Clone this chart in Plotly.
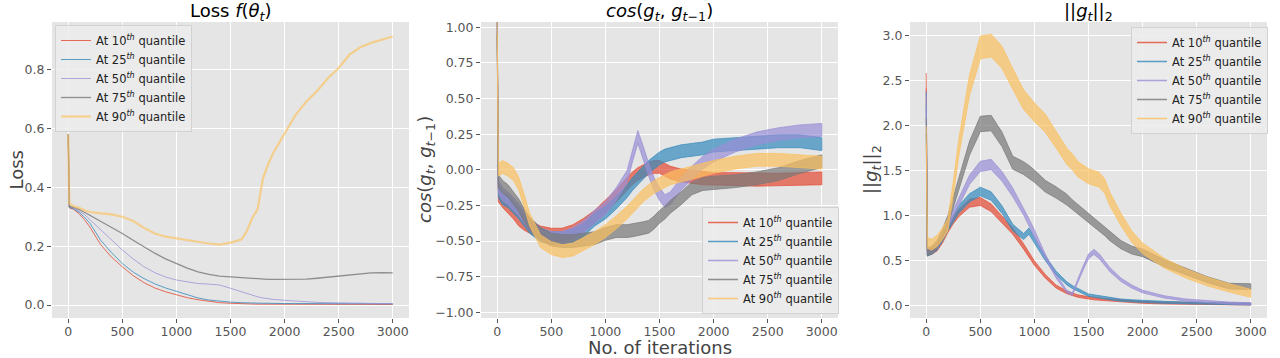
import plotly.graph_objects as go

# ---- data ----
names = ["At 10<sup><i>th</i></sup> quantile", "At 25<sup><i>th</i></sup> quantile",
         "At 50<sup><i>th</i></sup> quantile", "At 75<sup><i>th</i></sup> quantile",
         "At 90<sup><i>th</i></sup> quantile"]
colors = ["#E24A33", "#348ABD", "#988ED5", "#777777", "#FBC15E"]

loss_x = [0, 10, 50, 100, 150, 200, 300, 400, 500, 600, 700, 800, 900, 1000, 1100, 1200,
          1300, 1400, 1500, 1600, 1650, 1700, 1750, 1800, 1850, 1900, 2000, 2100, 2200,
          2300, 2400, 2500, 2600, 2700, 2800, 2900, 3000]
loss_q10 = [0.58, 0.33, 0.325, 0.31, 0.29, 0.265, 0.205, 0.163, 0.13, 0.1, 0.076, 0.058,
            0.045, 0.034, 0.025, 0.018, 0.012, 0.008, 0.006, 0.004, 0.004, 0.003, 0.003,
            0.003, 0.003, 0.002, 0.002, 0.002, 0.002, 0.002, 0.002, 0.002, 0.002, 0.002,
            0.002, 0.002, 0.002]
loss_q25 = [0.58, 0.332, 0.327, 0.315, 0.298, 0.278, 0.22, 0.178, 0.141, 0.112, 0.09, 0.072,
            0.058, 0.046, 0.034, 0.024, 0.017, 0.013, 0.01, 0.008, 0.007, 0.007, 0.006,
            0.006, 0.006, 0.005, 0.005, 0.005, 0.005, 0.004, 0.004, 0.004, 0.004, 0.004,
            0.004, 0.004, 0.004]
loss_q50 = [0.58, 0.334, 0.33, 0.32, 0.308, 0.29, 0.255, 0.22, 0.187, 0.157, 0.13, 0.11,
            0.095, 0.085, 0.078, 0.073, 0.071, 0.068, 0.057, 0.045, 0.039, 0.033, 0.028,
            0.024, 0.021, 0.019, 0.016, 0.013, 0.011, 0.009, 0.008, 0.007, 0.006, 0.006,
            0.005, 0.005, 0.005]
loss_q75 = [0.58, 0.335, 0.332, 0.325, 0.315, 0.305, 0.285, 0.263, 0.243, 0.22, 0.198,
            0.176, 0.157, 0.14, 0.125, 0.113, 0.104, 0.098, 0.095, 0.093, 0.091, 0.09,
            0.088, 0.087, 0.087, 0.087, 0.087, 0.087, 0.088, 0.091, 0.095, 0.099, 0.102,
            0.106, 0.109, 0.11, 0.109]
loss_q90 = [0.58, 0.345, 0.335, 0.33, 0.322, 0.316, 0.311, 0.308, 0.3, 0.285, 0.262, 0.243,
            0.232, 0.226, 0.22, 0.214, 0.209, 0.205, 0.212, 0.222, 0.25, 0.295, 0.325, 0.43,
            0.48, 0.52, 0.585, 0.645, 0.69, 0.727, 0.77, 0.805, 0.85, 0.875, 0.89, 0.9, 0.912]

cos_x = [0, 10, 50, 100, 150, 200, 250, 300, 400, 500, 600, 700, 800, 900, 1000, 1100,
         1200, 1250, 1300, 1350, 1400, 1450, 1500, 1550, 1600, 1700, 1800, 1900, 2000,
         2200, 2400, 2600, 2800, 3000]
cos_q10 = [1.0, -0.18, -0.22, -0.26, -0.3, -0.35, -0.38, -0.4, -0.44, -0.455, -0.455, -0.43,
           -0.385, -0.33, -0.26, -0.185, -0.1, -0.06, -0.03, -0.01, 0.01, 0.02, 0.02, 0.0,
           -0.02, -0.04, -0.05, -0.06, -0.065, -0.065, -0.07, -0.07, -0.065, -0.06]
cos_q25 = [1.0, -0.15, -0.2, -0.22, -0.26, -0.3, -0.35, -0.4, -0.46, -0.48, -0.48, -0.46,
           -0.42, -0.35, -0.3, -0.23, -0.15, -0.1, -0.06, -0.02, 0.02, 0.05, 0.08, 0.1, 0.11,
           0.13, 0.14, 0.15, 0.17, 0.18, 0.19, 0.2, 0.2, 0.18]
cos_q50 = [1.0, -0.12, -0.17, -0.2, -0.24, -0.28, -0.33, -0.38, -0.45, -0.48, -0.48, -0.45,
           -0.4, -0.33, -0.27, -0.17, -0.05, 0.1, 0.23, 0.12, 0.0, -0.1, -0.17, -0.22, -0.2,
           -0.1, -0.02, 0.05, 0.1, 0.17, 0.22, 0.25, 0.27, 0.28]
cos_q75 = [1.0, -0.08, -0.12, -0.15, -0.2, -0.25, -0.32, -0.38, -0.45, -0.49, -0.5, -0.5,
           -0.49, -0.48, -0.45, -0.43, -0.43, -0.425, -0.42, -0.41, -0.4, -0.37, -0.33, -0.3,
           -0.26, -0.2, -0.13, -0.1, -0.09, -0.08, -0.06, -0.03, 0.02, 0.06]
cos_q90 = [1.0, 0.0, 0.02, 0.0, -0.03, -0.1, -0.22, -0.35, -0.5, -0.55, -0.57, -0.56, -0.52,
           -0.48, -0.43, -0.37, -0.3, -0.26, -0.22, -0.18, -0.15, -0.12, -0.1, -0.08, -0.06,
           -0.04, -0.02, 0.0, 0.02, 0.05, 0.07, 0.07, 0.06, 0.05]

norm_x = [0, 10, 50, 100, 150, 200, 250, 300, 400, 500, 600, 700, 800, 900, 950, 1000,
          1100, 1200, 1300, 1350, 1400, 1450, 1500, 1550, 1600, 1650, 1700, 1800, 1900,
          2000, 2200, 2400, 2600, 2800, 3000]
norm_q10 = [2.5, 0.6, 0.6, 0.64, 0.73, 0.85, 0.95, 1.03, 1.14, 1.16, 1.09, 0.96, 0.83, 0.66,
            0.57, 0.475, 0.33, 0.215, 0.15, 0.13, 0.11, 0.1, 0.09, 0.08, 0.075, 0.07, 0.065,
            0.055, 0.048, 0.04, 0.033, 0.028, 0.025, 0.022, 0.02]
norm_q25 = [2.3, 0.58, 0.6, 0.65, 0.75, 0.87, 0.97, 1.07, 1.2, 1.27, 1.22, 1.07, 0.87, 0.77,
            0.83, 0.735, 0.53, 0.365, 0.25, 0.21, 0.18, 0.15, 0.12, 0.11, 0.1, 0.09, 0.08,
            0.065, 0.057, 0.05, 0.04, 0.032, 0.027, 0.023, 0.02]
norm_q50 = [2.3, 0.6, 0.62, 0.66, 0.77, 0.9, 1.02, 1.15, 1.4, 1.55, 1.57, 1.44, 1.26, 1.05,
            0.93, 0.81, 0.55, 0.33, 0.16, 0.13, 0.28, 0.42, 0.55, 0.6, 0.55, 0.48, 0.4, 0.29,
            0.215, 0.16, 0.1, 0.065, 0.045, 0.032, 0.025]
norm_q75 = [2.0, 0.6, 0.62, 0.68, 0.8, 0.95, 1.15, 1.35, 1.75, 2.02, 2.03, 1.85, 1.59, 1.53,
            1.49, 1.44, 1.33, 1.26, 1.18, 1.12, 1.07, 1.03, 0.98, 0.93, 0.88, 0.83, 0.77,
            0.68, 0.62, 0.59, 0.475, 0.38, 0.29, 0.22, 0.215]
norm_q90 = [1.9, 0.7, 0.68, 0.72, 0.8, 0.9, 1.3, 1.75, 2.45, 2.87, 2.89, 2.76, 2.52, 2.29,
            2.22, 2.15, 2.03, 1.85, 1.66, 1.6, 1.52, 1.48, 1.44, 1.42, 1.40, 1.33, 1.18,
            0.96, 0.77, 0.64, 0.475, 0.36, 0.27, 0.2, 0.14]

loss_series = [loss_q10, loss_q25, loss_q50, loss_q75, loss_q90]
cos_series = [cos_q10, cos_q25, cos_q50, cos_q75, cos_q90]
norm_series = [norm_q10, norm_q25, norm_q50, norm_q75, norm_q90]

# ---- styling ----
FONT = "DejaVu Sans"
loss_widths = [1, 1, 1, 1.3, 2.2]
loss_alpha = [0.8, 0.8, 0.75, 0.8, 0.65]
cos_halfwidth = 0.045              # half thickness of the noisy band
norm_band = [(0.03, 0.01), (0.03, 0.01), (0.03, 0.01), (0.03, 0.025), (0.03, 0.04)]


def rgba(hex_color, a):
    h = hex_color.lstrip("#")
    return "rgba(%d,%d,%d,%s)" % (int(h[0:2], 16), int(h[2:4], 16), int(h[4:6], 16), a)


fig = go.Figure()

# panel 1: loss lines
for name, col, ys, w, a in zip(names, colors, loss_series, loss_widths, loss_alpha):
    fig.add_trace(go.Scatter(x=loss_x, y=ys, mode="lines", name=name,
                             line=dict(color=rgba(col, a), width=w),
                             xaxis="x", yaxis="y", legend="legend"))


def band(xs, lo, hi, col, xa, ya):
    fig.add_trace(go.Scatter(x=xs + xs[::-1], y=hi + lo[::-1], mode="lines",
                             fill="toself", fillcolor=rgba(col, 0.7),
                             line=dict(color=rgba(col, 0.7), width=1),
                             showlegend=False, hoverinfo="skip", xaxis=xa, yaxis=ya))


# panel 2: cosine similarity bands
for name, col, ys in zip(names, colors, cos_series):
    lo = [v - cos_halfwidth for v in ys]
    hi = [v + cos_halfwidth for v in ys]
    band(cos_x, lo, hi, col, "x2", "y2")
    fig.add_trace(go.Scatter(x=[None], y=[None], mode="lines", name=name,
                             line=dict(color=rgba(col, 0.8), width=1.5),
                             xaxis="x2", yaxis="y2", legend="legend2"))

# panel 3: gradient norm bands
for name, col, ys, (frac, floor) in zip(names, colors, norm_series, norm_band):
    lo = [v - (frac * v + floor) for v in ys]
    hi = [v + (frac * v + floor) for v in ys]
    band(norm_x, lo, hi, col, "x3", "y3")
    fig.add_trace(go.Scatter(x=[None], y=[None], mode="lines", name=name,
                             line=dict(color=rgba(col, 0.8), width=1.5),
                             xaxis="x3", yaxis="y3", legend="legend3"))

ydom = [40 / 358, 336 / 358]
xdoms = [[52 / 1280, 409 / 1280], [481 / 1280, 838 / 1280], [910 / 1280, 1267 / 1280]]

axis_common = dict(showgrid=True, gridcolor="white", gridwidth=1, zeroline=False,
                   showline=False, ticks="outside", ticklen=4, tickwidth=1, automargin=False,
                   tickcolor="#555555", tickfont=dict(family=FONT, size=12.5, color="#555555"))
xticks = dict(range=[-150, 3150], tickvals=[0, 500, 1000, 1500, 2000, 2500, 3000],
              ticklabelstandoff=-2)

legend_common = dict(bgcolor="rgba(236,236,236,0.85)", bordercolor="#d2d2d2", borderwidth=1,
                     font=dict(family=FONT, size=11.5, color="#222222"), tracegroupgap=0,
                     itemwidth=30)

fig.update_layout(
    width=1280, height=358,
    margin=dict(l=0, r=0, t=0, b=0),
    paper_bgcolor="white", plot_bgcolor="#E5E5E5",
    font=dict(family=FONT),
    xaxis=dict(domain=xdoms[0], anchor="y", **xticks, **axis_common),
    yaxis=dict(domain=ydom, anchor="x", range=[-0.044, 0.961],
               tickvals=[0, 0.2, 0.4, 0.6, 0.8], tickformat=".1f", **axis_common),
    xaxis2=dict(domain=xdoms[1], anchor="y2", **xticks, **axis_common),
    yaxis2=dict(domain=ydom, anchor="x2", range=[-1.04, 1.037],
                tickvals=[-1, -0.75, -0.5, -0.25, 0, 0.25, 0.5, 0.75, 1],
                tickformat=".2f", **axis_common),
    xaxis3=dict(domain=xdoms[2], anchor="y3", **xticks, **axis_common),
    yaxis3=dict(domain=ydom, anchor="x3", range=[-0.134, 3.152],
                tickvals=[0, 0.5, 1, 1.5, 2, 2.5, 3], tickformat=".1f", **axis_common),
    legend=dict(x=55 / 1280, y=(358 - 25) / 358, xanchor="left", yanchor="top",
                **legend_common),
    legend2=dict(x=702 / 1280, y=(358 - 207) / 358, xanchor="left", yanchor="top",
                 **legend_common),
    legend3=dict(x=1131 / 1280, y=(358 - 27) / 358, xanchor="left", yanchor="top",
                 **legend_common),
)

title_font = dict(family=FONT, size=18, color="black")
ty = (358 - 12) / 358
titles = [
    ("Loss <i>f</i>(<i>θ</i><sub><i>t</i></sub>)", sum(xdoms[0]) / 2),
    ("<i>cos</i>(<i>g</i><sub><i>t</i></sub>, <i>g</i><sub><i>t</i>−1</sub>)", sum(xdoms[1]) / 2),
    ("||<i>g</i><sub><i>t</i></sub>||<sub>2</sub>", sum(xdoms[2]) / 2),
]
for text, x in titles:
    fig.add_annotation(text=text, x=x, y=ty, xref="paper", yref="paper",
                       xanchor="center", yanchor="middle", showarrow=False, font=title_font)

label_font = dict(family=FONT, size=18, color="#444444")
ymid = (358 - 170) / 358
ylabels = [
    ("Loss", 15.5 / 1280),
    ("<i>cos</i>(<i>g</i><sub><i>t</i></sub>, <i>g</i><sub><i>t</i>−1</sub>)", 426 / 1280),
    ("||<i>g</i><sub><i>t</i></sub>||<sub>2</sub>", 872 / 1280),
]
for text, x in ylabels:
    fig.add_annotation(text=text, x=x, y=ymid, xref="paper", yref="paper", textangle=-90,
                       xanchor="center", yanchor="middle", showarrow=False, font=label_font)

fig.add_annotation(text="No. of iterations", x=sum(xdoms[1]) / 2, y=(358 - 347) / 358,
                   xref="paper", yref="paper", xanchor="center", yanchor="middle",
                   showarrow=False, font=label_font)

# drop the default page margin so the 1280x358 figure fills the window exactly
fig.write_html("out.html", config={"displayModeBar": False},
               post_script="document.body.style.margin='0';")
